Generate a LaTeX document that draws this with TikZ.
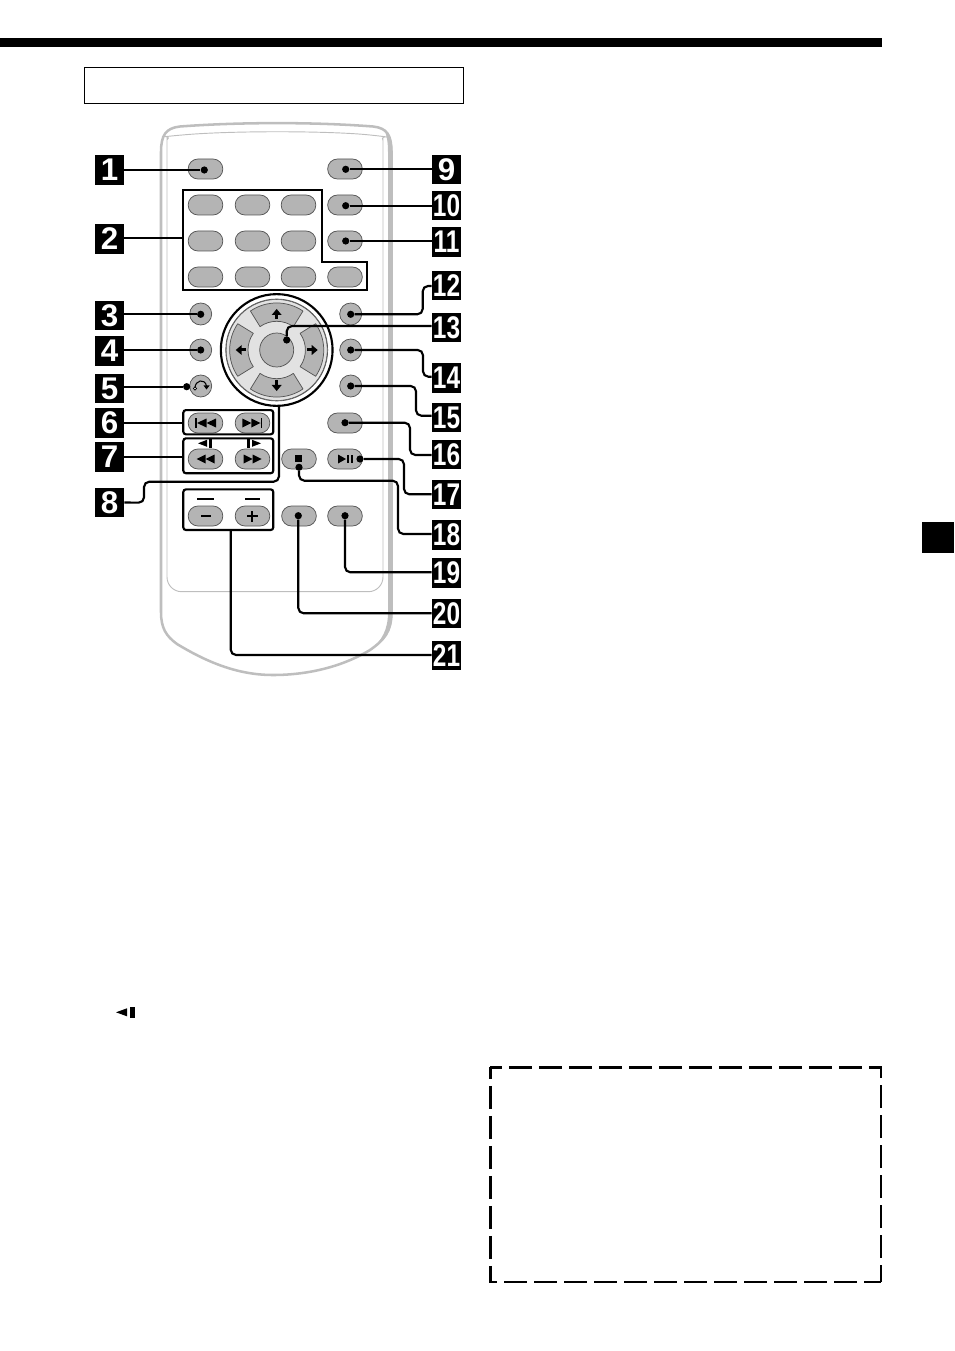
\documentclass[tikz,border=0pt]{standalone}
\usepackage{fontspec}
\usepackage{graphicx}
\setmainfont{Liberation Sans}
\definecolor{btnfill}{HTML}{B4B4B4}
\definecolor{btnline}{HTML}{555555}
\definecolor{shell}{HTML}{BEBEBE}
\definecolor{ring}{HTML}{E2E2E2}
\tikzset{
  btn/.style={draw=btnline,fill=btnfill,line width=.55pt,rounded corners=7.4pt,minimum width=26pt,minimum height=15pt,inner sep=0pt},
  rbtn/.style={draw=btnline,fill=btnfill,line width=.55pt,circle,minimum size=16.5pt,inner sep=0pt},
  lab/.style={fill=black,text=white,minimum width=21.8pt,minimum height=21.8pt,inner sep=0pt,font=\fontsize{23.5}{23.5}\selectfont\bfseries},
  dotn/.style={circle,fill=black,minimum size=5.4pt,inner sep=0pt},
  conn/.style={line width=1.6pt,rounded corners=4pt},
  frame/.style={draw=black,line width=1.6pt,rounded corners=2pt},
  framen/.style={frame,inner sep=0pt,minimum width=67.5pt},
  padseg/.style={draw=btnline,fill=btnfill,line width=.55pt,line join=round},
  dashline/.style={line width=2pt,dash pattern=on 17.25pt off 5.25pt,dash phase=8.5pt},
}
\newcommand{\twod}[1]{\scalebox{.78}[1]{#1}}
\begin{document}
\begin{tikzpicture}[x=.75pt,y=-.75pt]
\useasboundingbox (0,0) rectangle (954,1351);
% page furniture
\fill[black] (0,37.7) rectangle (882,47.3);
\fill[black] (922,522) rectangle (954,553);
\draw[line width=.8pt] (84.5,67.5) rectangle (463.5,103.5);
\draw[dashline] (490.3,1067.3) -- (881,1067.3) -- (881,1282);
\draw[dashline] (490.3,1067.3) -- (490.3,1282) -- (881,1282);
\fill[black] (116,1012.3) -- (127,1008.3) -- (127,1016.3) -- cycle;
\fill[black] (130,1007) rectangle (135,1018);
% remote shell
\draw[shell,line width=1.9pt,line join=round]
 (161,152) .. controls (161,135) and (166,128) .. (180,126.5)
 .. controls (240,122) and (315,122) .. (373,126.5)
 .. controls (387,128) and (391.5,135) .. (391.5,152)
 -- (391.5,612)
 .. controls (391.5,632) and (384,640) .. (370,650)
 .. controls (340,668) and (305,675) .. (273,675)
 .. controls (240,675) and (210,664) .. (177,644)
 .. controls (166,636) and (161,628) .. (161,612) -- cycle;
\fill[shell] (385,131) .. controls (389.5,136) and (392.5,142) .. (392.5,152) -- (392.5,612)
 .. controls (392.5,632) and (385,641) .. (370,651)
 .. controls (382,640) and (388,630) .. (388,612) -- (388,152) .. controls (388,143) and (387,137) .. (385,131) -- cycle;
\draw[shell,line width=.7pt,rounded corners=11pt]
 (167,153) .. controls (167,141) and (171,136) .. (180,135)
 .. controls (240,131) and (315,131) .. (373,135)
 .. controls (380,136) and (383,141) .. (383,153)
 -- (383,591.7) -- (167,591.7) -- cycle;
% top buttons
\node[btn] (b1) at (205.5,169) {};
\node[btn] (b9) at (345,169) {};
\node[btn] (k1) at (205.5,205) {};
\node[btn] (k2) at (252.5,205) {};
\node[btn] (k3) at (298.5,205) {};
\node[btn] (b10) at (345,205) {};
\node[btn] (k4) at (205.5,241) {};
\node[btn] (k5) at (252.5,241) {};
\node[btn] (k6) at (298.5,241) {};
\node[btn] (b11) at (345,241) {};
\node[btn] (k7) at (205.5,277) {};
\node[btn] (k8) at (252.5,277) {};
\node[btn] (k9) at (298.5,277) {};
\node[btn] (k0) at (345,277) {};
\draw[frame,rounded corners=0pt] (182.7,190) -- (321.7,190) -- (321.7,261.7) -- (366.7,261.7) -- (366.7,290) -- (182.7,290) -- cycle;
\coordinate (f2) at (182.7,238.3);
% round buttons
\node[rbtn] (b3) at (200.7,314) {};
\node[rbtn] (b4) at (200.7,350) {};
\node[rbtn] (b5) at (200.7,386) {};
\node[rbtn] (b12) at (350.7,314) {};
\node[rbtn] (b14) at (350.7,350) {};
\node[rbtn] (b15) at (350.7,386) {};
% return arrow on button 5
\draw[black,line width=.8pt] (195,388) .. controls (195,380) and (205,378) .. (206.5,386);
\draw[black,fill=white,line width=.5pt] (195,388.5) circle (1.6);
\fill[black] (203.5,385.5) -- (209.5,385.5) -- (206.5,389.5) -- cycle;
% d-pad
\node[circle,draw=black,line width=1.6pt,fill=white,minimum size=83.8pt,inner sep=0pt] (pad) at (276.7,350) {};
\node[circle,draw=btnline,fill=ring,line width=.5pt,minimum size=76.5pt,inner sep=0pt] (ringn) at (pad) {};
\draw[btnline,line width=.4pt] (pad) circle (50.5);
\begin{scope}[shift={(276.7,350)}]
\foreach \a in {-90,0,90,180}{
  \draw[padseg] (\a-34:47) .. controls (\a-11.8:50.8) and (\a+11.8:50.8) .. (\a+34:47)
     -- (\a+35.5:28.7) .. controls (\a+12.4:31.2) and (\a-12.4:31.2) .. (\a-35.5:28.7) -- cycle;
}
\foreach \a in {-90,0,90,180}{
  \begin{scope}[rotate=\a]
    \fill[black] (41,0) -- (35,-5) -- (35,5) -- cycle;
    \fill[black] (30.5,-1.5) rectangle (35.5,1.5);
  \end{scope}
}
\end{scope}
\node[circle,draw=btnline,fill=btnfill,line width=.55pt,minimum size=25.5pt,inner sep=0pt] (b13) at (pad) {};
% transport buttons
\node[btn] (p1) at (205.5,423) {};
\node[btn] (p2) at (252.5,423) {};
\node[btn] (b16) at (345,423) {};
\node[btn] (r1) at (205.5,459) {};
\node[btn] (r2) at (252.5,459) {};
\node[btn] (b18) at (299,459) {};
\node[btn] (b17) at (345,459) {};
\node[btn] (v1) at (205.5,516) {};
\node[btn] (v2) at (252.5,516) {};
\node[btn] (b20) at (299,516) {};
\node[btn] (b19) at (345,516) {};
% glyphs
\fill[black] (195,418) rectangle (196.6,428);
\fill[black] (197,423) -- (206.5,418.5) -- (206.5,427.5) -- cycle;
\fill[black] (206.5,423) -- (216,418.5) -- (216,427.5) -- cycle;
\fill[black] (260.8,418) rectangle (262.4,428);
\fill[black] (260.5,423) -- (251.4,418.5) -- (251.4,427.5) -- cycle;
\fill[black] (251.4,423) -- (242.3,418.5) -- (242.3,427.5) -- cycle;
\fill[black] (196.5,459) -- (205.5,454.5) -- (205.5,463.5) -- cycle;
\fill[black] (205.5,459) -- (214.5,454.5) -- (214.5,463.5) -- cycle;
\fill[black] (261.5,459) -- (252.5,454.5) -- (252.5,463.5) -- cycle;
\fill[black] (252.5,459) -- (243.5,454.5) -- (243.5,463.5) -- cycle;
\fill[black] (295,455) rectangle (302,462);
\fill[black] (338,454.5) -- (346,459) -- (338,463.5) -- cycle;
\fill[black] (347,454.8) rectangle (349,463.2);
\fill[black] (350.5,454.8) rectangle (352.5,463.2);
\fill[black] (201,515.2) rectangle (211,517.2);
\fill[black] (247,515) rectangle (257.5,517.2);
\fill[black] (251.2,510.5) rectangle (253.4,521.5);
% frames
\node[framen,minimum height=18.2pt] (f6) at (228.3,422.2) {};
\node[framen,minimum height=26.2pt] (f7) at (228.3,455.8) {};
\node[framen,minimum height=30.5pt] (f21) at (228.3,509.7) {};
\fill[black] (198,443.3) -- (207,439.8) -- (207,446.8) -- cycle;
\fill[black] (208.5,438.5) rectangle (212,448);
\fill[black] (261,443.3) -- (252,439.8) -- (252,446.8) -- cycle;
\fill[black] (246.5,438.5) rectangle (250,448);
\fill[black] (197.3,497.9) rectangle (214,499.5);
\fill[black] (245,497.9) rectangle (260,499.5);
% labels
\node[lab] (l1) at (109.5,170) {1};
\node[lab] (l2) at (109.5,239) {2};
\node[lab] (l3) at (109.5,315.5) {3};
\node[lab] (l4) at (109.5,351) {4};
\node[lab] (l5) at (109.5,388.5) {5};
\node[lab] (l6) at (109.5,423) {6};
\node[lab] (l7) at (109.5,457) {7};
\node[lab] (l8) at (109.5,502.5) {8};
\node[lab] (l9) at (446.5,169.5) {9};
\node[lab] (l10) at (446.5,205.5) {\twod{10}};
\node[lab] (l11) at (446.5,242) {\twod{11}};
\node[lab] (l12) at (446.5,285.5) {\twod{12}};
\node[lab] (l13) at (446.5,327.5) {\twod{13}};
\node[lab] (l14) at (446.5,378) {\twod{14}};
\node[lab] (l15) at (446.5,417.5) {\twod{15}};
\node[lab] (l16) at (446.5,454.5) {\twod{16}};
\node[lab] (l17) at (446.5,494.5) {\twod{17}};
\node[lab] (l18) at (446.5,535) {\twod{18}};
\node[lab] (l19) at (446.5,573) {\twod{19}};
\node[lab] (l20) at (446.5,613.5) {\twod{20}};
\node[lab] (l21) at (446.5,655.5) {\twod{21}};
% dots
\node[dotn] (d1) at (204.3,170) {};
\node[dotn] (d3) at (200.7,314.3) {};
\node[dotn] (d4) at (200.7,350) {};
\node[dotn] (d5) at (186.7,386.7) {};
\node[dotn] (d9) at (345.7,169.3) {};
\node[dotn] (d10) at (345.7,205.7) {};
\node[dotn] (d11) at (345.7,241) {};
\node[dotn] (d12) at (350.7,314.3) {};
\node[dotn] (d13) at (286.7,340) {};
\node[dotn] (d14) at (350.7,350) {};
\node[dotn] (d15) at (350.7,386) {};
\node[dotn] (d16) at (345,422.7) {};
\node[dotn] (d17) at (360,459) {};
\node[dotn] (d18) at (299,467.3) {};
\node[dotn] (d19) at (345,515.7) {};
\node[dotn] (d20) at (298.3,515.7) {};
% connectors
\draw[conn] (l1.east |- d1) -- (d1);
\draw[conn] (l2.east |- f2) -- (f2);
\draw[conn] (l3.east |- d3) -- (d3);
\draw[conn] (l4.east |- d4) -- (d4);
\draw[conn] (l5.east |- d5) -- (d5);
\draw[conn] (l6.east |- 0,422.7) -- (f6.west |- 0,422.7);
\draw[conn] (l7.east |- 0,456.7) -- (f7.west |- 0,456.7);
\draw[conn] (l8.east) -- (144,502.7) -- (144,481.7) -- (279,481.7) -- (279,405.7);
\draw[conn] (d9) -- (d9 -| l9.west);
\draw[conn] (d10) -- (d10 -| l10.west);
\draw[conn] (d11) -- (d11 -| l11.west);
\draw[conn] (d12) -- (422.7,314.3) -- (422.7,286) -- (l12.west |- 0,286);
\draw[conn] (d13) -- (286.7,326) -- (l13.west |- 0,326);
\draw[conn] (d14) -- (423,350) -- (423,376.7) -- (l14.west |- 0,376.7);
\draw[conn] (d15) -- (416,386) -- (416,415.7) -- (l15.west |- 0,415.7);
\draw[conn] (d16) -- (410,422.7) -- (410,455) -- (l16.west |- 0,455);
\draw[conn] (d17) -- (404,459) -- (404,494.3) -- (l17.west |- 0,494.3);
\draw[conn] (d18) -- (299,480.7) -- (398,480.7) -- (398,534) -- (l18.west |- 0,534);
\draw[conn] (d19) -- (345,572.3) -- (l19.west |- 0,572.3);
\draw[conn] (d20) -- (298.3,613.3) -- (l20.west |- 0,613.3);
\draw[conn] (f21.south -| 230.7,0) -- (230.7,655) -- (l21.west |- 0,655);
\end{tikzpicture}
\end{document}
